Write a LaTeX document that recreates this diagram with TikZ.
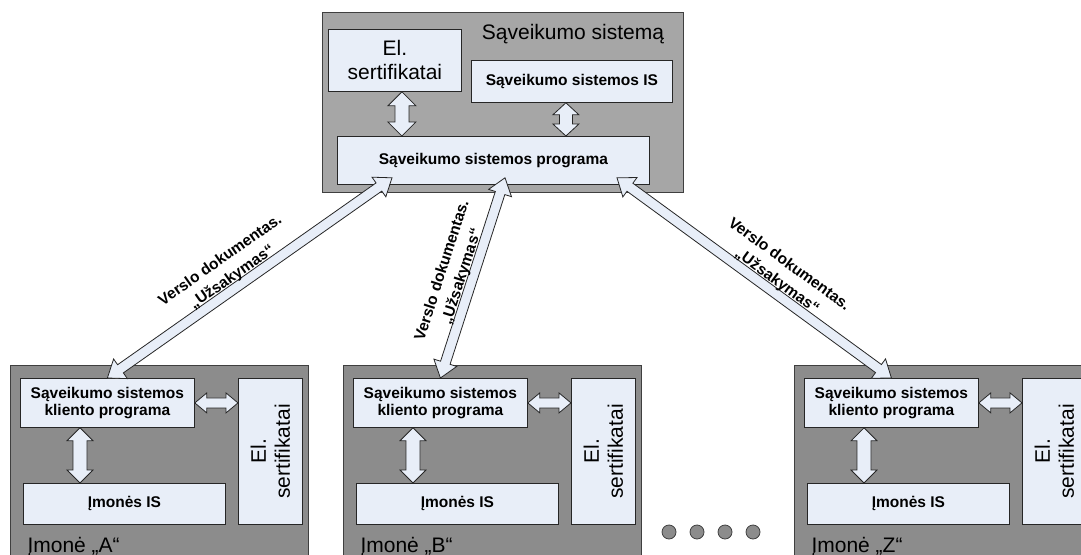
\documentclass[tikz,border=0pt]{standalone}
\usepackage{fontspec}
\setmainfont{Liberation Sans}
\usetikzlibrary{calc}

\definecolor{coreFill}{HTML}{A6A6A6}
\definecolor{orgFill}{HTML}{8C8C8C}
\definecolor{paneFill}{HTML}{E8EEF8}
\definecolor{edgeDark}{HTML}{3F3F3F}

\newcommand{\boldlbl}{\fontsize{15.5}{17.5}\selectfont\bfseries}
\newcommand{\flowfont}{\fontsize{15.5}{20.5}\selectfont\bfseries}
\newcommand{\biglbl}{\fontsize{21}{24}\selectfont}

\tikzset{
  outerbox/.style={draw=edgeDark, line width=1.2pt, anchor=north west, inner sep=0pt},
  pane/.style={draw=black!85, fill=paneFill, line width=0.8pt, anchor=north west,
               inner sep=0pt, align=center, font=\boldlbl},
  blockarrow/.style={draw=black!85, fill=paneFill, line width=0.8pt, line join=miter},
  flowlbl/.style={sloped, above=2pt, inner sep=1pt, align=center, font=\flowfont},
  dot/.style={circle, draw=edgeDark, fill=orgFill, line width=0.8pt,
              minimum size=14pt, inner sep=0pt}
}

% double-headed block arrow: #1 start, #2 end, #3 half shaft, #4 half head, #5 head length
\newcommand{\dblarrow}[5]{%
  \filldraw[blockarrow] let \p1=(#1), \p2=(#2), \n1={atan2(\y2-\y1,\x2-\x1)} in
    (\p1)
    -- ($(\p1)+(\n1:#5)+({\n1+90}:#4)$)
    -- ($(\p1)+(\n1:#5)+({\n1+90}:#3)$)
    -- ($(\p2)+({\n1+180}:#5)+({\n1+90}:#3)$)
    -- ($(\p2)+({\n1+180}:#5)+({\n1+90}:#4)$)
    -- (\p2)
    -- ($(\p2)+({\n1+180}:#5)+({\n1-90}:#4)$)
    -- ($(\p2)+({\n1+180}:#5)+({\n1-90}:#3)$)
    -- ($(\p1)+(\n1:#5)+({\n1-90}:#3)$)
    -- ($(\p1)+(\n1:#5)+({\n1-90}:#4)$)
    -- cycle;}

\begin{document}
\begin{tikzpicture}[x=1pt, y=-1pt]
\useasboundingbox (0,0) rectangle (1081,554);
\clip (0,0) rectangle (1081,554);

% central interoperability system
\node[outerbox, fill=coreFill, minimum width=361pt, minimum height=180pt] (core) at (322,12) {};
\node[font=\biglbl, anchor=base] (coretitle) at (573,39) {Sąveikumo sistemą};
\node[pane, font=\biglbl, minimum width=133pt, minimum height=62pt] (topcert) at (328,29) {El.\\sertifikatai};
\node[pane, minimum width=201pt, minimum height=42pt] (coreis) at (471,60) {Sąveikumo sistemos IS};
\node[pane, minimum width=312pt, minimum height=48pt] (prog) at (337,136) {Sąveikumo sistemos programa};

\coordinate (tc) at ($(topcert.south)+(7,0)$);
\dblarrow{tc}{tc |- prog.north}{7pt}{14pt}{14pt}
\coordinate (ic) at ($(coreis.south)+(-6,0)$);
\dblarrow{ic}{ic |- prog.north}{6.5pt}{13pt}{12pt}

% companies
\foreach \co/\dx in {A/0,B/333,Z/784}{
  \node[outerbox, fill=orgFill, minimum width=298pt, minimum height=200pt] (org\co) at (10+\dx,365) {};
  \node[pane, minimum width=174pt, minimum height=49pt] (cl\co) at (20+\dx,378) {Sąveikumo sistemos\\kliento programa};
  \node[pane, minimum width=202pt, minimum height=41pt] (is\co) at (23+\dx,483) {Įmonės IS};
  \node[pane, minimum width=64pt, minimum height=146pt] (es\co) at (238+\dx,378) {};
  \node[font=\biglbl, rotate=90, align=center] (est\co) at (es\co.center) {El.\\sertifikatai};
  \node[font=\biglbl, anchor=base west] (lbl\co) at (24+\dx,552) {Įmonė „\co“};
  \coordinate (v\co) at ($(cl\co.south west)+(60,0)$);
  \dblarrow{v\co}{v\co |- is\co.north}{7pt}{13pt}{13pt}
  \dblarrow{cl\co.east}{cl\co.east -| es\co.west}{5pt}{10pt}{12pt}
}

% exchange of business documents
\coordinate (pA) at ($(prog.south west)+(55,-7)$);
\coordinate (pB) at ($(prog.south west)+(168,-7)$);
\coordinate (pZ) at ($(prog.south west)+(280,-7)$);
\dblarrow{clA.north}{pA}{5pt}{12pt}{16pt}
\dblarrow{clB.north}{pB}{5pt}{12pt}{16pt}
\dblarrow{pZ}{clZ.north}{5pt}{12pt}{16pt}
\path (clA.north) -- node[flowlbl, pos=0.46] (docA) {Verslo dokumentas.\\„Užsakymas“} (pA);
\path (clB.north) -- node[flowlbl, pos=0.49] (docB) {Verslo dokumentas.\\„Užsakymas“} (pB);
\path (pZ) -- node[flowlbl, pos=0.56] (docZ) {Verslo dokumentas.\\„Užsakymas“} (clZ.north);

% more companies
\foreach \i/\xx in {1/669,2/697,3/725,4/753}
  \node[dot] (dot\i) at (\xx,532) {};
\end{tikzpicture}
\end{document}
